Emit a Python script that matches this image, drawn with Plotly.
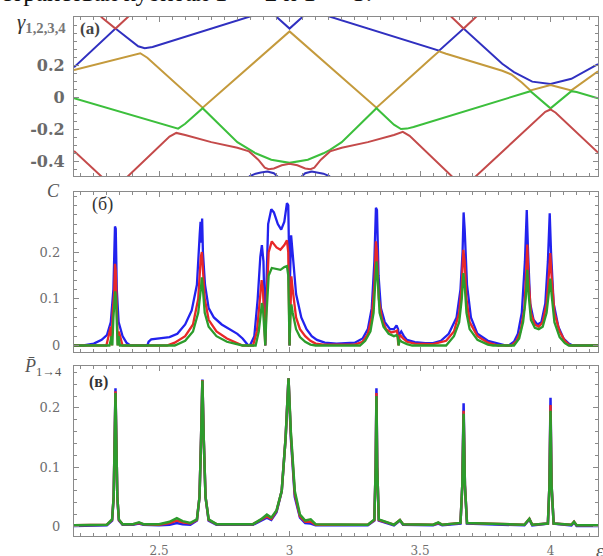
import plotly.graph_objects as go

# ---------------- panel (a): gamma_{1,2,3,4}(eps) ----------------
a_blue_x = [2.174, 2.333, 2.42, 2.445, 2.475, 2.85, 2.89, 2.915, 2.94, 2.955, 3.0, 3.045, 3.06, 3.085, 3.11, 3.15,
            3.525, 3.555, 3.573, 3.667, 3.815, 3.86, 3.93, 4.0, 4.08, 4.182,
            None, 2.845, 2.87, 2.89, 2.915, 2.94, 2.96,
            None, 3.04, 3.06, 3.085, 3.11, 3.13, 3.155]
a_blue_y = [0.19, 0.433, 0.322, 0.31, 0.318, 0.508, 0.53, 0.535, 0.525, 0.5, 0.433, 0.5, 0.525, 0.535, 0.53, 0.51,
            0.318, 0.302, 0.294, 0.433, 0.212, 0.16, 0.1, 0.085, 0.118, 0.21,
            None, -0.495, -0.478, -0.47, -0.465, -0.475, -0.505,
            None, -0.505, -0.475, -0.465, -0.47, -0.478, -0.495]

a_gold_x = [2.174, 2.40, 2.428, 2.455, 2.667, 3.0, 3.333, 3.545, 3.573, 3.60, 3.815, 3.85, 3.89, 3.923,
            3.96, 4.0, 4.04, 4.08, 4.182]
a_gold_y = [0.172, 0.268, 0.278, 0.25, -0.064, 0.415, -0.064, 0.25, 0.29, 0.275, 0.168, 0.145, 0.095, 0.045,
            0.062, 0.078, 0.062, 0.045, 0.165]

a_green_x = [2.174, 2.54, 2.573, 2.60, 2.667, 2.80, 2.845, 2.87, 2.93, 3.0, 3.07, 3.13, 3.155, 3.20, 3.333,
             3.40, 3.427, 3.45, 3.475, 3.90, 3.923, 4.0, 4.08, 4.10, 4.182]
a_green_y = [-0.004, -0.18, -0.195, -0.165, -0.067, -0.28, -0.328, -0.35, -0.39, -0.41, -0.39, -0.35, -0.328, -0.28, -0.067,
             -0.17, -0.198, -0.195, -0.185, 0.028, 0.04, -0.068, 0.04, 0.035, -0.005]

a_red_x = [2.174, 2.283, 2.29,
           None, 2.27, 2.283, 2.333, 2.377, 2.39,
           None, 2.37, 2.377, 2.54, 2.566, 2.60, 2.70, 2.80, 2.845, 2.88, 2.905, 2.92, 2.94, 2.97, 3.0,
           3.03, 3.06, 3.08, 3.095, 3.12, 3.155, 3.20, 3.30, 3.40, 3.434, 3.46, 3.624, 3.635,
           None, 3.615, 3.624, 3.667, 3.71, 3.72,
           None, 3.705, 3.71, 3.98, 4.0, 4.02, 4.182]
a_red_y = [-0.335, -0.5, -0.512,
           None, 0.52, 0.5, 0.433, 0.5, 0.52,
           None, -0.51, -0.5, -0.245, -0.222, -0.235, -0.28, -0.315, -0.338, -0.39, -0.44, -0.45, -0.445, -0.425, -0.415,
           -0.425, -0.445, -0.45, -0.44, -0.39, -0.338, -0.315, -0.28, -0.235, -0.215, -0.24, -0.5, -0.515,
           None, 0.515, 0.5, 0.433, 0.5, 0.515,
           None, -0.515, -0.5, -0.09, -0.075, -0.095, -0.345]

# ---------------- panel (б): C(eps) ----------------
c_blue_x = [2.174, 2.21, 2.25, 2.28, 2.30, 2.315, 2.325, 2.331, 2.334, 2.338, 2.345, 2.36, 2.375, 2.39,
            2.455, 2.46, 2.47, 2.50, 2.54, 2.57, 2.60, 2.625, 2.645, 2.656, 2.659, 2.662, 2.665, 2.668, 2.676,
            2.69, 2.71, 2.74, 2.77, 2.80, 2.82, 2.835, 2.842,
            2.85, 2.865, 2.878, 2.888, 2.894, 2.9, 2.905, 2.907, 2.91, 2.918, 2.93, 2.94, 2.955, 2.968, 2.98,
            2.99, 2.995, 2.998, 3.0, 3.002, 3.006, 3.012, 3.025, 3.045, 3.065, 3.085, 3.105, 3.135, 3.18,
            3.25, 3.28, 3.30, 3.315, 3.325, 3.331, 3.335, 3.341, 3.35, 3.365, 3.385, 3.40, 3.41, 3.416,
            3.419, 3.422, 3.428, 3.438, 3.45, 3.48, 3.52, 3.55, 3.58, 3.61, 3.64, 3.655, 3.663, 3.667, 3.671,
            3.68, 3.695, 3.72, 3.76, 3.80, 3.83,
            3.84, 3.86, 3.875, 3.89, 3.902, 3.909, 3.914, 3.922, 3.935, 3.95, 3.965, 3.98, 3.99, 3.997, 4.002,
            4.012, 4.03, 4.05, 4.07, 4.085, 4.182]
c_blue_y = [0, 0, 0.004, 0.012, 0.022, 0.05, 0.12, 0.255, 0.25, 0.12, 0.05, 0.02, 0.006, 0,
            0, 0.008, 0.013, 0.015, 0.018, 0.025, 0.045, 0.075, 0.13, 0.24, 0.265, 0.22, 0.272, 0.2, 0.13,
            0.08, 0.06, 0.045, 0.035, 0.025, 0.015, 0.003, 0,
            0.002, 0.02, 0.1, 0.19, 0.215, 0.18, 0.06, 0, 0.1, 0.26, 0.292, 0.285, 0.26, 0.248, 0.265,
            0.305, 0.3, 0.2, 0, 0.15, 0.236, 0.2, 0.11, 0.06, 0.035, 0.02, 0.012, 0.006, 0.004,
            0.006, 0.015, 0.035, 0.08, 0.18, 0.295, 0.29, 0.15, 0.08, 0.05, 0.035, 0.035, 0.043, 0.035,
            0.01, 0.025, 0.03, 0.02, 0.012, 0.007, 0.005, 0.005, 0.01, 0.025, 0.06, 0.12, 0.2, 0.285, 0.25,
            0.13, 0.06, 0.025, 0.01, 0.004, 0,
            0, 0.008, 0.025, 0.07, 0.18, 0.29, 0.2, 0.09, 0.055, 0.045, 0.05, 0.09, 0.18, 0.283, 0.2,
            0.09, 0.04, 0.015, 0.004, 0, 0]

c_red_x = [2.174, 2.298, 2.315, 2.318, 2.322, 2.328, 2.331, 2.334, 2.338, 2.342, 2.346, 2.355, 2.36,
           2.53, 2.56, 2.60, 2.63, 2.65, 2.66, 2.664, 2.668, 2.675, 2.69, 2.72, 2.76, 2.80, 2.82,
           2.86, 2.875, 2.885, 2.893, 2.898, 2.903, 2.907, 2.911, 2.92, 2.932, 2.95, 2.965, 2.98, 2.99,
           2.995, 3.0, 3.003, 3.007, 3.012, 3.025, 3.04, 3.06, 3.08, 3.10, 3.13, 3.25, 3.28, 3.30, 3.315,
           3.325, 3.331, 3.335, 3.342, 3.355, 3.37, 3.39, 3.405, 3.412, 3.417, 3.42, 3.425, 3.435, 3.45,
           3.48, 3.55, 3.60, 3.63, 3.65, 3.66, 3.666, 3.671, 3.678, 3.69, 3.72, 3.76, 3.80, 3.85, 3.87,
           3.885, 3.9, 3.907, 3.911, 3.915, 3.925, 3.94, 3.955, 3.97, 3.985, 3.995, 3.999, 4.004, 4.015,
           4.035, 4.055, 4.075, 4.182]
c_red_y = [0, 0, 0.04, 0, 0.07, 0.11, 0.175, 0.16, 0.08, 0, 0.03, 0.008, 0,
           0, 0.006, 0.02, 0.045, 0.1, 0.19, 0.2, 0.17, 0.1, 0.055, 0.03, 0.015, 0.006, 0,
           0, 0.03, 0.09, 0.14, 0.12, 0.04, 0, 0.08, 0.2, 0.223, 0.21, 0.205, 0.215, 0.225,
           0.2, 0, 0.1, 0.148, 0.12, 0.06, 0.035, 0.02, 0.01, 0.004, 0.002, 0.002, 0.008, 0.025, 0.06,
           0.13, 0.223, 0.2, 0.1, 0.055, 0.035, 0.028, 0.03, 0.032, 0, 0.02, 0.022, 0.015, 0.008,
           0.004, 0.003, 0.01, 0.03, 0.07, 0.13, 0.205, 0.18, 0.1, 0.05, 0.02, 0.006, 0, 0, 0.01,
           0.03, 0.08, 0.16, 0.216, 0.15, 0.07, 0.045, 0.04, 0.05, 0.09, 0.16, 0.198, 0.15, 0.07,
           0.03, 0.01, 0, 0]

c_green_x = [2.174, 2.31, 2.318, 2.321, 2.325, 2.33, 2.332, 2.335, 2.338, 2.341, 2.345, 2.35,
             2.56, 2.60, 2.63, 2.65, 2.66, 2.664, 2.668, 2.675, 2.69, 2.72, 2.76, 2.80, 2.82,
             2.87, 2.882, 2.89, 2.894, 2.898, 2.903, 2.907, 2.911, 2.92, 2.932, 2.95, 2.965, 2.98, 2.99,
             2.995, 3.0, 3.003, 3.007, 3.012, 3.025, 3.04, 3.06, 3.08, 3.10, 3.27, 3.29, 3.31, 3.322,
             3.33, 3.333, 3.337, 3.345, 3.36, 3.38, 3.40, 3.41, 3.415, 3.418, 3.422, 3.43, 3.45, 3.47,
             3.60, 3.63, 3.65, 3.66, 3.666, 3.671, 3.678, 3.69, 3.72, 3.76, 3.78, 3.86, 3.88, 3.895,
             3.905, 3.911, 3.916, 3.925, 3.94, 3.955, 3.97, 3.985, 3.995, 3.999, 4.004, 4.015, 4.035,
             4.055, 4.07, 4.182]
c_green_y = [0, 0, 0.02, 0, 0.06, 0.1, 0.116, 0.1, 0.04, 0, 0.02, 0,
             0, 0.01, 0.03, 0.07, 0.12, 0.146, 0.12, 0.07, 0.04, 0.02, 0.008, 0.002, 0,
             0, 0.03, 0.07, 0.091, 0.08, 0.03, 0, 0.06, 0.15, 0.166, 0.163, 0.162, 0.168, 0.17,
             0.15, 0, 0.06, 0.088, 0.07, 0.035, 0.018, 0.008, 0.002, 0, 0, 0.01, 0.03, 0.07,
             0.15, 0.18, 0.15, 0.07, 0.04, 0.025, 0.02, 0.022, 0.018, 0, 0.012, 0.008, 0.003, 0,
             0, 0.02, 0.05, 0.1, 0.155, 0.13, 0.07, 0.035, 0.012, 0.002, 0, 0, 0.015, 0.05,
             0.1, 0.162, 0.11, 0.055, 0.038, 0.035, 0.04, 0.07, 0.12, 0.143, 0.11, 0.05, 0.018,
             0.005, 0, 0]

# ---------------- panel (в): P_{1->4}(eps) ----------------
p_blue_x = [2.174, 2.30, 2.32, 2.326, 2.33, 2.333, 2.336, 2.34, 2.346, 2.36, 2.40, 2.423, 2.44, 2.50, 2.54,
            2.568, 2.59, 2.62, 2.645, 2.655, 2.661, 2.666, 2.671, 2.678, 2.69, 2.72, 2.86, 2.89, 2.913,
            2.93, 2.95, 2.97, 2.985, 2.996, 3.005, 3.02, 3.04, 3.06, 3.081, 3.10, 3.30, 3.325, 3.33,
            3.333, 3.336, 3.342, 3.40, 3.415, 3.423, 3.435, 3.55, 3.57, 3.585, 3.655, 3.662, 3.667,
            3.672, 3.68, 3.90, 3.919, 3.93, 3.99, 3.996, 4.0, 4.004, 4.012, 4.08, 4.09, 4.10, 4.182]
p_blue_y = [0.001, 0.002, 0.01, 0.05, 0.15, 0.233, 0.15, 0.05, 0.01, 0.003, 0.003, 0.005, 0.003, 0.002, 0.003,
            0.006, 0.004, 0.003, 0.01, 0.05, 0.15, 0.248, 0.15, 0.05, 0.01, 0.003, 0.003, 0.01, 0.015,
            0.011, 0.024, 0.06, 0.15, 0.25, 0.15, 0.05, 0.015, 0.006, 0.005, 0.002, 0.002, 0.01, 0.1,
            0.233, 0.1, 0.01, 0.002, 0.007, 0.01, 0.003, 0.002, 0.005, 0.002, 0.005, 0.07, 0.208,
            0.07, 0.005, 0.002, 0.012, 0.002, 0.005, 0.07, 0.217, 0.07, 0.005, 0.002, 0.007, 0.001, 0.001]

p_red_x = p_blue_x
p_red_y = [0.002, 0.003, 0.011, 0.05, 0.15, 0.228, 0.15, 0.05, 0.011, 0.004, 0.004, 0.006, 0.004, 0.003, 0.006,
           0.01, 0.007, 0.005, 0.011, 0.05, 0.15, 0.247, 0.15, 0.05, 0.011, 0.004, 0.004, 0.011, 0.017,
           0.013, 0.026, 0.06, 0.15, 0.25, 0.155, 0.055, 0.017, 0.008, 0.008, 0.003, 0.003, 0.011, 0.1,
           0.225, 0.1, 0.011, 0.003, 0.008, 0.011, 0.004, 0.003, 0.006, 0.003, 0.006, 0.07, 0.195,
           0.07, 0.006, 0.003, 0.013, 0.003, 0.005, 0.07, 0.205, 0.07, 0.005, 0.003, 0.008, 0.002, 0.002]

p_green_x = p_blue_x
p_green_y = [0.002, 0.003, 0.012, 0.05, 0.15, 0.225, 0.15, 0.05, 0.012, 0.004, 0.004, 0.007, 0.004, 0.004, 0.008,
             0.014, 0.009, 0.006, 0.012, 0.05, 0.15, 0.246, 0.15, 0.05, 0.012, 0.004, 0.004, 0.012, 0.02,
             0.015, 0.027, 0.06, 0.15, 0.25, 0.16, 0.06, 0.02, 0.01, 0.012, 0.004, 0.003, 0.012, 0.1,
             0.22, 0.1, 0.012, 0.003, 0.008, 0.011, 0.004, 0.003, 0.007, 0.003, 0.006, 0.07, 0.19,
             0.07, 0.006, 0.003, 0.013, 0.003, 0.005, 0.07, 0.195, 0.07, 0.005, 0.003, 0.008, 0.002, 0.002]

x_range = [2.174, 4.182]
x_tickvals = [2.5, 3, 3.5, 4]
x_ticktext = ["2.5", "3", "3.5", "4"]

# ---------------- figure ----------------
W, H = 603, 556
ML, MR, MT, MB = 74, 5, 17, 20
PW, PH = W - ML - MR, H - MT - MB


def px(xp):
    return (xp - ML) / PW


def py(yp):
    return (H - MB - yp) / PH


A_BLUE, A_GOLD, A_GREEN, A_RED = "#3030c0", "#c49a3c", "#3cbf3c", "#c44a4a"
BLUE, RED, GREEN = "#2222ee", "#e82828", "#2c9c2c"

fig = go.Figure()
for xs, ys, col in [(a_blue_x, a_blue_y, A_BLUE), (a_gold_x, a_gold_y, A_GOLD),
                    (a_green_x, a_green_y, A_GREEN), (a_red_x, a_red_y, A_RED)]:
    fig.add_trace(go.Scatter(x=xs, y=ys, mode="lines", line=dict(color=col, width=2),
                             xaxis="x", yaxis="y", showlegend=False, hoverinfo="skip"))
for xs, ys, col in [(c_blue_x, c_blue_y, BLUE), (c_red_x, c_red_y, RED), (c_green_x, c_green_y, GREEN)]:
    fig.add_trace(go.Scatter(x=xs, y=ys, mode="lines", line=dict(color=col, width=2.3),
                             xaxis="x2", yaxis="y2", showlegend=False, hoverinfo="skip"))
for xs, ys, col in [(p_blue_x, p_blue_y, BLUE), (p_red_x, p_red_y, RED), (p_green_x, p_green_y, GREEN)]:
    fig.add_trace(go.Scatter(x=xs, y=ys, mode="lines", line=dict(color=col, width=2.5),
                             xaxis="x3", yaxis="y3", showlegend=False, hoverinfo="skip"))

FRAME = "#8a8a8a"
SERIF = "DejaVu Serif, Liberation Serif, serif"
common_x = dict(range=x_range, showgrid=False, zeroline=False, showline=True, linecolor=FRAME, linewidth=1.3,
                mirror="allticks", ticks="inside", ticklen=5, tickcolor=FRAME, tickwidth=1, automargin=False,
                tickvals=x_tickvals, ticktext=x_ticktext,
                minor=dict(ticks="inside", ticklen=3, tickcolor=FRAME, dtick=0.05, tick0=2.5))
common_y = dict(showgrid=False, zeroline=False, showline=True, linecolor=FRAME, linewidth=1.3, automargin=False,
                mirror="allticks", ticks="inside", ticklen=5, tickcolor=FRAME, tickwidth=1)

dom_a = [py(176), 1]
dom_b = [py(351.7), py(192)]
dom_c = [0, py(366)]

fig.update_layout(
    width=W, height=H, margin=dict(l=ML, r=MR, t=MT, b=MB, autoexpand=False),
    paper_bgcolor="white", plot_bgcolor="white",
    xaxis=dict(common_x, anchor="y", showticklabels=False),
    xaxis2=dict(common_x, anchor="y2", showticklabels=False),
    xaxis3=dict(common_x, anchor="y3", showticklabels=True, ticklabelstandoff=3,
                tickfont=dict(family=SERIF, size=12, color="#6e6e6e")),
    yaxis=dict(common_y, domain=dom_a, anchor="x", range=[-0.4925, 0.5057],
               tickvals=[-0.4, -0.2, 0, 0.2], ticktext=["-0.4", "-0.2", "0", "0.2"],
               minor=dict(ticks="inside", ticklen=3, tickcolor=FRAME, dtick=0.05, tick0=0),
               ticklabelstandoff=5,
               tickfont=dict(family=SERIF, size=16, color="#6a6a6a", weight="bold")),
    yaxis2=dict(common_y, domain=dom_b, anchor="x2", range=[-0.0133, 0.3287],
                tickvals=[0, 0.1, 0.2], ticktext=["0", "0.1", "0.2"],
                minor=dict(ticks="inside", ticklen=3, tickcolor=FRAME, dtick=0.02, tick0=0),
                ticklabelstandoff=10,
                tickfont=dict(family=SERIF, size=13, color="#6e6e6e")),
    yaxis3=dict(common_y, domain=dom_c, anchor="x3", range=[-0.016, 0.2707],
                tickvals=[0, 0.1, 0.2], ticktext=["0", "0.1", "0.2"],
                minor=dict(ticks="inside", ticklen=3, tickcolor=FRAME, dtick=0.02, tick0=0),
                ticklabelstandoff=10,
                tickfont=dict(family=SERIF, size=13, color="#6e6e6e")),
)

ann = [
    dict(text="странствах кубитах 1 → 2 и 1 → 3.", x=px(-1), y=py(8), xanchor="left", yanchor="bottom",
         font=dict(family="Liberation Serif", size=25, color="#111")),
    dict(text="<i>γ</i><sub><b><span style='color:#777'>1,2,3,4</span></b></sub>", x=px(68), y=py(23),
         xanchor="right", yanchor="middle", font=dict(family="Liberation Serif", size=21, color="#333")),
    dict(text="<b>(a)</b>", x=px(78), y=py(29), xanchor="left", yanchor="middle",
         font=dict(family="Liberation Serif", size=17, color="#444")),
    dict(text="<i>C</i>", x=px(53), y=py(191), xanchor="center", yanchor="middle",
         font=dict(family="Liberation Serif", size=18, color="#555")),
    dict(text="(б)", x=px(90), y=py(205), xanchor="left", yanchor="middle",
         font=dict(family="Liberation Serif", size=18, color="#333")),
    dict(text="<i>P̄</i><sub>1→4</sub>", x=px(64), y=py(368), xanchor="right", yanchor="middle",
         font=dict(family="Liberation Serif", size=18, color="#555")),
    dict(text="<b>(в)</b>", x=px(87), y=py(382), xanchor="left", yanchor="middle",
         font=dict(family="Liberation Serif", size=16, color="#333")),
    dict(text="<i>ε</i>", x=px(594), y=py(550), xanchor="left", yanchor="middle",
         font=dict(family="Liberation Serif", size=19, color="#555")),
]
for a in ann:
    a.update(xref="paper", yref="paper", showarrow=False)
fig.update_layout(annotations=ann)

fig.write_html("out.html", config={"displayModeBar": False},
               post_script="document.body.style.margin='0';document.body.style.overflow='hidden';")
